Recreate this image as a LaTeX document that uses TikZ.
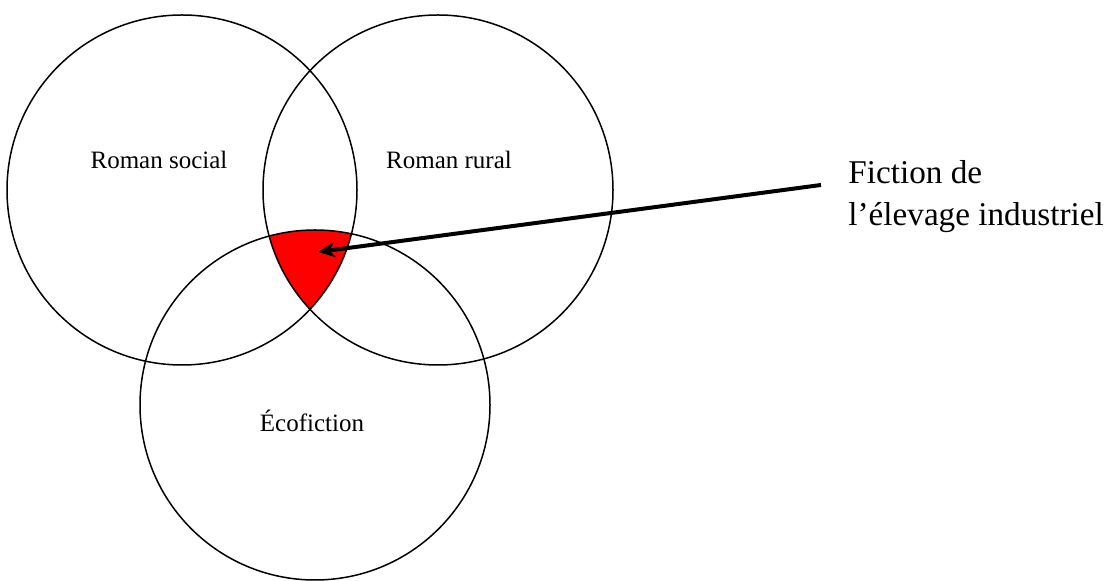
\documentclass[tikz,border=0pt]{standalone}
\usepackage{fontspec}
\setmainfont{Liberation Serif}
\usetikzlibrary{positioning, arrows.meta}

\begin{document}
\begin{tikzpicture}[x=0.5pt, y=-0.5pt,
  setcircle/.style={circle, draw=black, line width=0.75pt, minimum size=175pt, inner sep=0pt},
  setlabel/.style={font=\fontsize{12.5}{15}\selectfont, inner sep=1pt},
  callout/.style={font=\fontsize{16.6}{21}\selectfont, align=left, inner sep=0pt}
]
  \useasboundingbox (0,0) rectangle (1108,581);

  % centres of the three sets
  \coordinate (cs) at (182,190);
  \coordinate (cr) at (438,190);
  \coordinate (ce) at (315,405);

  % common part of the three sets
  \begin{scope}
    \clip (cs) circle[radius=87.5pt];
    \clip (cr) circle[radius=87.5pt];
    \fill[red] (ce) circle[radius=87.5pt];
  \end{scope}

  \node[setcircle] (social) at (cs) {};
  \node[setcircle] (rural) at (cr) {};
  \node[setcircle] (eco) at (ce) {};

  \node[setlabel] (sociallabel) at (159,160) {Roman social};
  \node[setlabel] (rurallabel) at (449,160) {Roman rural};
  \node[setlabel] (ecolabel) at (312,421) {Écofiction};

  \node[callout, anchor=north west] (fiction) at (848,160) {Fiction de\\l’élevage industriel};

  \coordinate (tip) at (318,252);
  \coordinate (tail) at (821,185);
  \draw[-{Stealth[length=8.5pt, width=7.5pt]}, line width=2pt] (tail) -- (tip);
\end{tikzpicture}
\end{document}
